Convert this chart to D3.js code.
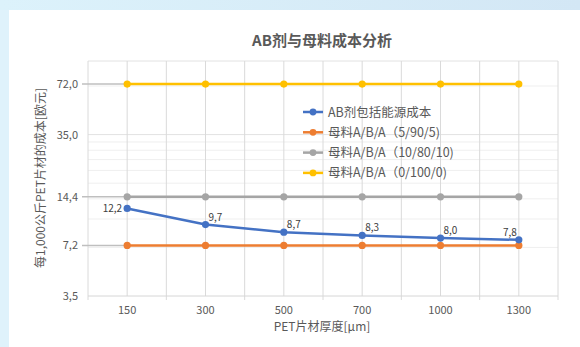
<!DOCTYPE html>
<html>
<head>
<meta charset="utf-8">
<script src="https://cdn.jsdelivr.net/npm/d3@7/dist/d3.min.js"></script>
<style>
  html, body { margin: 0; padding: 0; background: #dff2fb; }
  svg { display: block; font-family: "Noto Sans CJK SC", "Noto Sans", sans-serif; }
</style>
</head>
<body>
<svg id="chart" width="580" height="347"></svg>
<script>
// Sheet thickness categories (µm)
const thickness = ["150", "300", "500", "700", "1000", "1300"];

// Cost per 1,000 kg of PET sheet (EUR)
const abAgent   = [12.2, 9.7, 8.7, 8.3, 8.0, 7.8];
const mb5905    = [7.2, 7.2, 7.2, 7.2, 7.2, 7.2];
const mb108010  = [14.4, 14.4, 14.4, 14.4, 14.4, 14.4];
const mb01000   = [72.0, 72.0, 72.0, 72.0, 72.0, 72.0];

const seriesNames  = ["AB剂包括能源成本", "母料A/B/A（5/90/5)", "母料A/B/A（10/80/10)", "母料A/B/A（0/100/0)"];
const seriesColors = ["#4472C4", "#ED7D31", "#A5A5A5", "#FFC000"];

// Value-axis labels and log-range
const yTickValues = [3.5, 7.2, 14.4, 35.0, 72.0];
const yMinorValues = [7, 10.5, 14, 17.5, 21, 24.5, 28, 31.5, 70];
const yDomain = [3.5, 100];

const svg = d3.select("#chart");
const W = 580, H = 347;

// page background: blue band on top, white card
const grad = svg.append("defs").append("linearGradient")
  .attr("id", "band").attr("x1", "0").attr("x2", "1");
grad.append("stop").attr("offset", "0").attr("stop-color", "#dcf2fb");
grad.append("stop").attr("offset", "1").attr("stop-color", "#d3e7f5");
svg.append("rect").attr("width", W).attr("height", H).attr("fill", "url(#band)");
svg.append("rect").attr("x", 0).attr("y", 10).attr("width", 9).attr("height", H - 10).attr("fill", "#dff2fb");
svg.append("rect").attr("x", 9).attr("y", 10).attr("width", W - 9).attr("height", H - 10).attr("fill", "#ffffff");

const plot = { left: 88, right: 558, top: 61, bottom: 296 };

const x = d3.scaleBand().domain(thickness).range([plot.left, plot.right]).padding(0);
const cx = d => x(d) + x.bandwidth() / 2;
const y = d3.scaleLog().domain(yDomain).range([plot.bottom, plot.top]);

const g = svg.append("g");

// minor horizontal grid
g.selectAll(".minor").data(yMinorValues).join("line")
  .attr("x1", plot.left).attr("x2", plot.right)
  .attr("y1", d => y(d)).attr("y2", d => y(d))
  .attr("stroke", "#efefef").attr("stroke-width", 1);

// major horizontal grid
g.selectAll(".major").data([35, 100]).join("line")
  .attr("x1", plot.left).attr("x2", plot.right)
  .attr("y1", d => y(d)).attr("y2", d => y(d))
  .attr("stroke", "#e2e2e2").attr("stroke-width", 1);

// vertical grid: category centres and boundaries
const boundaries = thickness.map(d => x(d)).concat([plot.right]);
g.selectAll(".vb").data(boundaries).join("line")
  .attr("x1", d => d).attr("x2", d => d)
  .attr("y1", plot.top).attr("y2", plot.bottom + 4)
  .attr("stroke", "#dadada").attr("stroke-width", 1);
g.selectAll(".vc").data(thickness).join("line")
  .attr("x1", d => cx(d)).attr("x2", d => cx(d))
  .attr("y1", plot.top).attr("y2", plot.bottom)
  .attr("stroke", "#dadada").attr("stroke-width", 1);

// bottom axis line
g.append("line")
  .attr("x1", plot.left).attr("x2", plot.right)
  .attr("y1", plot.bottom).attr("y2", plot.bottom)
  .attr("stroke", "#d6d6d6").attr("stroke-width", 1);

// leader lines from the value axis to each flat series level
g.selectAll(".lead").data([7.2, 14.4, 72.0]).join("line")
  .attr("x1", 82).attr("x2", cx(thickness[0]))
  .attr("y1", d => y(d)).attr("y2", d => y(d))
  .attr("stroke", "#bfbfbf").attr("stroke-width", 1.5);

// y tick labels
g.selectAll(".ylab").data(yTickValues).join("text")
  .attr("x", 78).attr("y", d => y(d) + 4)
  .attr("text-anchor", "end")
  .attr("font-size", 11).attr("fill", "#595959")
  .text(d => d3.format(".1f")(d).replace(".", ","));

// x tick labels
g.selectAll(".xlab").data(thickness).join("text")
  .attr("x", d => cx(d)).attr("y", 314)
  .attr("text-anchor", "middle")
  .attr("font-size", 11).attr("fill", "#595959")
  .text(d => d);

// axis titles
svg.append("text")
  .attr("x", 322).attr("y", 331)
  .attr("text-anchor", "middle").attr("font-size", 12).attr("fill", "#595959")
  .text("PET片材厚度[µm]");
svg.append("text")
  .attr("transform", "translate(45,178) rotate(-90)")
  .attr("text-anchor", "middle").attr("font-size", 12).attr("fill", "#595959")
  .text("每1,000公斤PET片材的成本[欧元]");

// chart title
svg.append("text")
  .attr("x", 322).attr("y", 46)
  .attr("text-anchor", "middle").attr("font-size", 15).attr("font-weight", "bold")
  .attr("fill", "#595959")
  .text("AB剂与母料成本分析");

// series
const allSeries = [abAgent, mb5905, mb108010, mb01000];
const line = d3.line().x((d, i) => cx(thickness[i])).y(d => y(d));
const drawOrder = [3, 2, 1, 0];
drawOrder.forEach(k => {
  const vals = allSeries[k];
  g.append("path").datum(vals)
    .attr("d", line).attr("fill", "none")
    .attr("stroke", seriesColors[k]).attr("stroke-width", 2.5)
    .attr("stroke-linejoin", "round").attr("stroke-linecap", "round");
  g.selectAll(null).data(vals).join("circle")
    .attr("cx", (d, i) => cx(thickness[i])).attr("cy", d => y(d))
    .attr("r", 3.6).attr("fill", seriesColors[k]);
});

// value labels on the AB agent series
const labelFmt = d => d3.format(".1f")(d).replace(".", ",");
g.selectAll(".vlab").data(abAgent).join("text")
  .attr("x", (d, i) => {
    if (i === 0) return cx(thickness[i]) - 5;
    if (i === abAgent.length - 1) return cx(thickness[i]) - 2;
    return cx(thickness[i]) + 3;
  })
  .attr("y", (d, i) => i === 0 ? y(d) + 4 : y(d) - 4)
  .attr("text-anchor", (d, i) => (i === 0 || i === abAgent.length - 1) ? "end" : "start")
  .attr("font-size", 10).attr("fill", "#404040")
  .text(labelFmt);

// legend
const legend = svg.append("g").attr("transform", "translate(303,112)");
seriesNames.forEach((name, k) => {
  const row = legend.append("g").attr("transform", `translate(0,${k * 20.3})`);
  row.append("line").attr("x1", 0).attr("x2", 20).attr("y1", 0).attr("y2", 0)
    .attr("stroke", seriesColors[k]).attr("stroke-width", 2.5);
  row.append("circle").attr("cx", 10).attr("cy", 0).attr("r", 3.4).attr("fill", seriesColors[k]);
  row.append("text").attr("x", 25).attr("y", 4.5)
    .attr("font-size", 12.5).attr("fill", "#595959").text(name);
});
</script>
</body>
</html>
